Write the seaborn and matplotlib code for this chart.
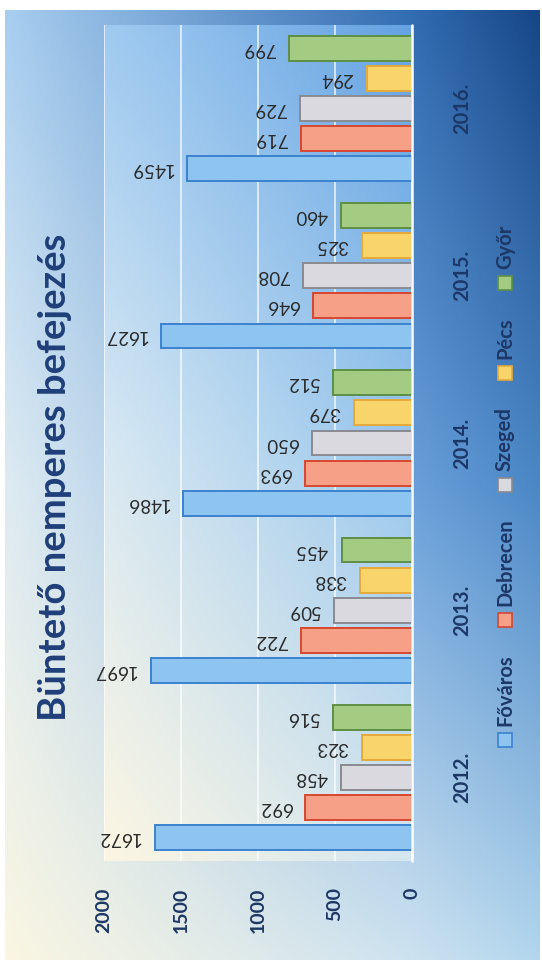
import numpy as np
import pandas as pd
import matplotlib
matplotlib.use("Agg")
import matplotlib.pyplot as plt
import seaborn as sns
from matplotlib.patches import Rectangle

# ---- data -------------------------------------------------------------
years = ["2012.", "2013.", "2014.", "2015.", "2016."]
cities = ["Főváros", "Debrecen", "Szeged", "Pécs", "Győr"]
fovaros = [1672, 1697, 1486, 1627, 1459]
debrecen = [692, 722, 693, 646, 719]
szeged = [458, 509, 650, 708, 729]
pecs = [323, 338, 379, 325, 294]
gyor = [516, 455, 512, 460, 799]
value_ticks = [0, 500, 1000, 1500, 2000]
title = "Büntető nemperes befejezés"

face_colors = ["#8ec4f0", "#f7a088", "#d9d9df", "#f9d46a", "#a3cc82"]
edge_colors = ["#3b82d0", "#d9462e", "#8a8a90", "#e6a93a", "#5e8f45"]
navy = "#1d3766"

series = dict(zip(cities, [fovaros, debrecen, szeged, pecs, gyor]))
rows = [(y, c, v) for c, vals in series.items() for y, v in zip(years, vals)]
df = pd.DataFrame(rows, columns=["ev", "varos", "ertek"])

# ---- style ------------------------------------------------------------
sns.set_style("white")
plt.rcParams["font.family"] = ["Lato", "DejaVu Sans"]

W_PX, H_PX = 542, 960
fig = plt.figure(figsize=(W_PX / 100, H_PX / 100), dpi=100)
fig.patch.set_facecolor("white")


def ramp(knots, n):
    t = np.linspace(0, 1, n)
    w = np.zeros((n, len(knots)))
    for j in range(len(knots)):
        e = np.zeros(len(knots))
        e[j] = 1.0
        w[:, j] = np.interp(t, knots, e)
    return w


def gradient(xk, yk, colors, n=240):
    c = np.array(colors, float) / 255.0
    return np.clip(np.einsum("yj,xi,jik->yxk", ramp(yk, n), ramp(xk, n), c), 0, 1)


def px_box(x0, y0, x1, y1):
    """Axes rectangle from pixel coords (top-left origin)."""
    return [x0 / W_PX, 1 - y1 / H_PX, (x1 - x0) / W_PX, (y1 - y0) / H_PX]


# chart area background
bg = fig.add_axes(px_box(5, 10, 540, 960), zorder=-3)
bg.imshow(gradient([0, 0.76, 1], [0, 0.5, 1], [
    [(168, 206, 240), (50, 108, 178), (22, 70, 135)],
    [(222, 235, 242), (105, 160, 218), (75, 135, 198)],
    [(250, 246, 226), (205, 226, 240), (178, 214, 238)],
]), aspect="auto", extent=[0, 1, 0, 1], interpolation="bilinear")
bg.axis("off")

# plot area
plot_box = px_box(104, 25, 412, 861)
pbg = fig.add_axes(plot_box, zorder=-2)
pbg.imshow(gradient([0, 1], [0, 0.5, 1], [
    [(160, 202, 240), (100, 162, 226)],
    [(215, 232, 243), (150, 197, 236)],
    [(252, 246, 226), (212, 230, 240)],
]), aspect="auto", extent=[0, 1, 0, 1], interpolation="bilinear")
pbg.axis("off")

ax = fig.add_axes(plot_box, zorder=0)
ax.set_facecolor("none")
sns.barplot(data=df, x="ertek", y="ev", hue="varos", order=years,
            hue_order=cities, palette=face_colors, orient="h", width=0.9,
            gap=0.17, saturation=1, errorbar=None, legend=False, ax=ax)

for cont, ec in zip(ax.containers, edge_colors):
    for rect in cont:
        rect.set_edgecolor(ec)
        rect.set_linewidth(1.4)
        v = rect.get_width()
        yc = rect.get_y() + rect.get_height() / 2
        ax.annotate(f"{v:.0f}", xy=(v, yc), xytext=(-10, 0),
                    textcoords="offset points", ha="right", va="center",
                    rotation=180, fontsize=13.5, color="#2b2b2b")

ax.set_xlim(2000, 0)
ax.set_ylim(-0.5, 4.5)
ax.set_xticks(value_ticks)
ax.grid(axis="x", color="white", lw=1.1, alpha=0.85)
ax.grid(axis="y", visible=False)
ax.set_axisbelow(True)
ax.axvline(0, color="white", lw=1.8, clip_on=False, zorder=1)
for s in ax.spines.values():
    s.set_visible(False)
ax.set_xlabel("")
ax.set_ylabel("")

ax.tick_params(axis="x", length=0, pad=19, labelsize=14, colors=navy)
plt.setp(ax.get_xticklabels(), rotation=90, fontweight="bold", ha="center", va="top")

ax.yaxis.tick_right()
ax.set_yticks(range(len(years)))
ax.set_yticklabels(years)
ax.tick_params(axis="y", length=0, pad=29, labelsize=14.5, colors=navy)
plt.setp(ax.get_yticklabels(), rotation=90, fontweight="bold", ha="left", va="center")

# title
fig.text(55 / W_PX, 1 - 477 / H_PX, title, rotation=90, ha="center", va="center",
         fontsize=27.5, fontweight="bold", color="#1f3f7a")

# legend, laid out along the vertical edge, reading bottom to top
fig.canvas.draw()
renderer = fig.canvas.get_renderer()
x_c = 505
sq = 14
y_cur = H_PX - 747  # display coords (bottom origin)
for name, fc, ec in zip(cities, face_colors, edge_colors):
    fig.add_artist(Rectangle(((x_c - sq / 2) / W_PX, y_cur / H_PX), sq / W_PX, sq / H_PX,
                             transform=fig.transFigure, facecolor=fc, edgecolor=ec, lw=1.2))
    y_txt = y_cur + sq + 7
    t = fig.text(x_c / W_PX, y_txt / H_PX, name, rotation=90, ha="center", va="bottom",
                 fontsize=14.5, fontweight="bold", color=navy)
    h = t.get_window_extent(renderer).height
    y_cur = y_txt + h + 27

fig.savefig("out.png", dpi=100)
